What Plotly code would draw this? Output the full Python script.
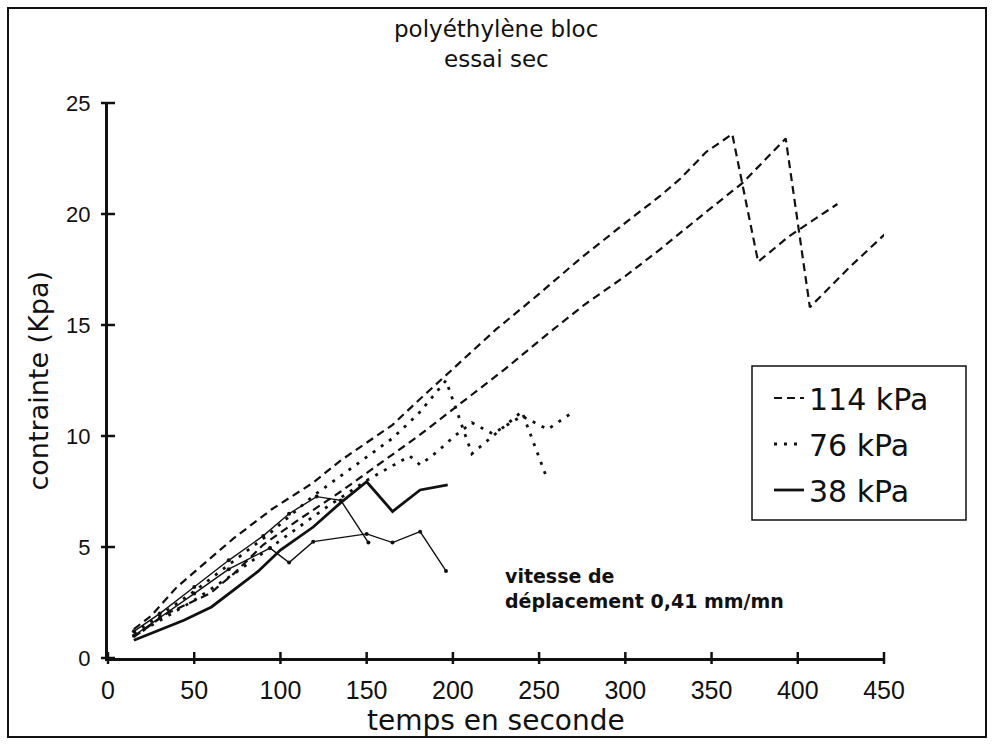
import plotly.graph_objects as go

# Essai de cisaillement sec, polyéthylène bloc : contrainte (kPa) en fonction du temps (s)
# 114 kPa, deux essais
t_114a = [15, 25, 40, 55, 73, 95, 119, 135, 150, 165, 180, 194, 210, 225, 250, 274, 300, 320, 332, 347, 362, 377, 395, 423]
s_114a = [1.3, 1.9, 3.2, 4.2, 5.4, 6.7, 7.9, 8.9, 9.7, 10.5, 11.6, 12.6, 13.7, 14.8, 16.4, 18.0, 19.6, 20.8, 21.6, 22.8, 23.6, 17.85, 19.0, 20.45]
t_114b = [15, 34, 59, 73, 90, 110, 135, 162, 180, 200, 230, 255, 276, 300, 320, 347, 368, 393, 407, 430, 452]
s_114b = [0.95, 2.0, 2.9, 3.8, 5.1, 6.2, 7.5, 9.0, 10.0, 11.2, 13.0, 14.6, 15.9, 17.2, 18.4, 20.1, 21.4, 23.4, 15.8, 17.6, 19.2]

# 76 kPa, deux essais
t_76a = [15, 30, 50, 70, 92, 119, 140, 165, 180, 196, 211, 225, 240, 255]
s_76a = [1.1, 1.9, 3.0, 4.2, 5.5, 7.3, 8.5, 9.9, 11.0, 12.5, 9.2, 10.1, 11.1, 8.0]
t_76b = [15, 30, 50, 75, 100, 125, 150, 175, 181, 191, 201, 211, 223, 240, 255, 270]
s_76b = [1.0, 1.7, 2.6, 3.9, 5.3, 6.7, 8.0, 9.1, 8.7, 9.3, 10.0, 10.6, 10.1, 10.9, 10.3, 11.1]

# 38 kPa, trois relevés
t_38a = [15, 25, 44, 60, 73, 87, 100, 119, 135, 150, 165, 181, 197]
s_38a = [0.8, 1.1, 1.7, 2.3, 3.06, 3.9, 4.86, 5.9, 7.0, 7.94, 6.6, 7.57, 7.8]
t_38b = [15, 30, 50, 70, 94, 105, 119, 150, 165, 181, 196]
s_38b = [1.0, 1.8, 2.9, 4.0, 4.95, 4.3, 5.24, 5.59, 5.2, 5.69, 3.92]
t_38c = [15, 30, 50, 70, 90, 105, 121, 135, 151]
s_38c = [1.2, 2.0, 3.2, 4.4, 5.5, 6.5, 7.27, 7.1, 5.2]

x_ticks = [0, 50, 100, 150, 200, 250, 300, 350, 400, 450]
y_ticks = [0, 5, 10, 15, 20, 25]
X_MAX = 450
Y_MAX = 25

BLACK = "#111111"
DASH = "8px,5px"
DOT = "3px,7px"
TEXT_FONT = "DejaVu Sans, Liberation Sans, sans-serif"

# plot area in pixels (page 993 x 745)
L, R, T, B = 108, 109, 103, 87
PW, PH = 993 - L - R, 745 - T - B


def px_x(p):
    """page pixel column -> paper coordinate"""
    return (p - L) / PW


def px_y(p):
    """page pixel row -> paper coordinate"""
    return (745 - B - p) / PH


fig = go.Figure()


def add(t, s, name, dash, width, show, group, markers=False):
    fig.add_trace(go.Scatter(
        x=t, y=s, name=name, legendgroup=group, showlegend=show,
        mode="lines+markers" if markers else "lines",
        line=dict(color=BLACK, width=width, dash=dash),
        marker=dict(size=4, color=BLACK),
        hoverinfo="skip",
    ))


add(t_114a, s_114a, "114 kPa", DASH, 2.2, True, "114")
add(t_114b, s_114b, "114 kPa", DASH, 2.2, False, "114")
add(t_76a, s_76a, "76 kPa", DOT, 2.8, True, "76")
add(t_76b, s_76b, "76 kPa", DOT, 2.8, False, "76")
add(t_38a, s_38a, "38 kPa", "solid", 2.8, True, "38")
add(t_38b, s_38b, "38 kPa", "solid", 1.4, False, "38", markers=True)
add(t_38c, s_38c, "38 kPa", "solid", 1.4, False, "38", markers=True)

TICKFONT_X = dict(family="Liberation Sans Narrow, Liberation Sans, Arial, sans-serif", size=25, color=BLACK)
TICKFONT_Y = dict(family="Liberation Sans, Arial, sans-serif", size=22, color=BLACK)

fig.update_layout(
    width=993, height=745,
    margin=dict(l=L, r=R, t=T, b=B),
    paper_bgcolor="white", plot_bgcolor="white",
    font=dict(family=TEXT_FONT, color=BLACK),
    xaxis=dict(range=[0, X_MAX], tickvals=x_ticks, ticktext=[str(v) for v in x_ticks],
               showgrid=False, zeroline=False, showline=True, linewidth=3, linecolor=BLACK,
               ticks="", tickfont=TICKFONT_X, ticklabelstandoff=8),
    yaxis=dict(range=[0, Y_MAX], tickvals=y_ticks, ticktext=[str(v) for v in y_ticks],
               showgrid=False, zeroline=False, showline=True, linewidth=3, linecolor=BLACK,
               ticks="", tickfont=TICKFONT_Y, ticklabelstandoff=10),
    legend=dict(x=px_x(769), y=px_y(372), xanchor="left", yanchor="top",
                bgcolor="rgba(0,0,0,0)", borderwidth=0,
                font=dict(family=TEXT_FONT, size=30, color=BLACK), itemwidth=30,
                tracegroupgap=4),
    showlegend=True,
)

# legend frame
fig.add_shape(type="rect", xref="paper", yref="paper",
              x0=px_x(752), x1=px_x(966), y0=px_y(520), y1=px_y(366),
              line=dict(color=BLACK, width=1.5), fillcolor="rgba(0,0,0,0)")

# cross-shaped tick marks straddling both axes
for v in x_ticks:
    fig.add_shape(type="line", xref="paper", yref="paper",
                  x0=v / X_MAX, x1=v / X_MAX, y0=-6 / PH, y1=6 / PH,
                  line=dict(color=BLACK, width=2.5))
for v in y_ticks:
    fig.add_shape(type="line", xref="paper", yref="paper",
                  y0=v / Y_MAX, y1=v / Y_MAX, x0=-7 / PW, x1=7 / PW,
                  line=dict(color=BLACK, width=2.5))

# title, two lines
fig.add_annotation(text="polyéthylène bloc", xref="paper", yref="paper",
                   x=0.5, y=px_y(29), xanchor="center", yanchor="middle",
                   showarrow=False, font=dict(size=23, color=BLACK))
fig.add_annotation(text="essai sec", xref="paper", yref="paper",
                   x=0.5, y=px_y(59), xanchor="center", yanchor="middle",
                   showarrow=False, font=dict(size=23, color=BLACK))

fig.add_annotation(text="temps en seconde", xref="paper", yref="paper",
                   x=0.5, y=px_y(720), xanchor="center", yanchor="middle",
                   showarrow=False, font=dict(size=28, color=BLACK))
fig.add_annotation(text="contrainte (Kpa)", xref="paper", yref="paper",
                   x=px_x(38), y=0.5, xanchor="center", yanchor="middle",
                   textangle=-90, showarrow=False, font=dict(size=27, color=BLACK))
fig.add_annotation(text="vitesse de<br>déplacement 0,41 mm/mn", xref="x", yref="y",
                   x=229, y=3.15, xanchor="left", yanchor="middle", align="left",
                   showarrow=False,
                   font=dict(family="DejaVu Sans, sans-serif", size=19, color=BLACK, weight="bold"))

# page frame
fig.add_shape(type="rect", xref="paper", yref="paper",
              x0=px_x(8), x1=px_x(986), y0=px_y(737), y1=px_y(8),
              line=dict(color=BLACK, width=2))

fig.write_html("out.html")
